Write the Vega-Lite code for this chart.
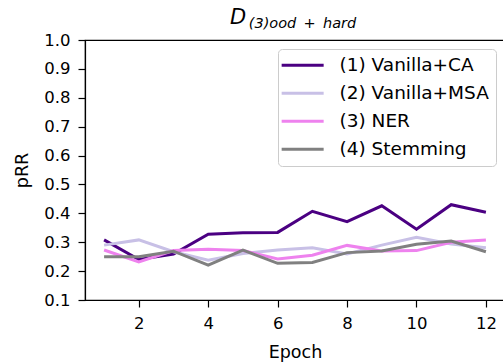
{
  "$schema": "https://vega.github.io/schema/vega-lite/v6.json",
  "width": 420,
  "height": 260,
  "autosize": {"type": "none"},
  "padding": {"left": 85, "top": 40, "right": 0, "bottom": 63},
  "background": "white",
  "config": {
    "font": "DejaVu Sans",
    "view": {"stroke": "black", "strokeWidth": 1.2},
    "axis": {
      "domainColor": "black", "domainWidth": 1.2,
      "tickColor": "black", "tickWidth": 1.2, "tickSize": 7,
      "labelColor": "black", "labelFontSize": 16.5, "labelFont": "DejaVu Sans",
      "titleColor": "black", "titleFontSize": 17.5, "titleFont": "DejaVu Sans", "titleFontWeight": "normal",
      "grid": false, "labelPadding": 8, "labelOverlap": false
    }
  },
  "title": {
    "text": "D",
    "anchor": "start",
    "frame": "group",
    "align": "left",
    "dx": 145,
    "dy": 25,
    "offset": 12,
    "font": "DejaVu Sans",
    "fontSize": 21,
    "fontStyle": "italic",
    "fontWeight": "normal",
    "color": "black"
  },
  "data": {
    "values": [
      {"epoch": 1, "method": "(1) Vanilla+CA", "pRR": 0.308},
      {"epoch": 2, "method": "(1) Vanilla+CA", "pRR": 0.240},
      {"epoch": 3, "method": "(1) Vanilla+CA", "pRR": 0.259},
      {"epoch": 4, "method": "(1) Vanilla+CA", "pRR": 0.328},
      {"epoch": 5, "method": "(1) Vanilla+CA", "pRR": 0.333},
      {"epoch": 6, "method": "(1) Vanilla+CA", "pRR": 0.334},
      {"epoch": 7, "method": "(1) Vanilla+CA", "pRR": 0.407},
      {"epoch": 8, "method": "(1) Vanilla+CA", "pRR": 0.371},
      {"epoch": 9, "method": "(1) Vanilla+CA", "pRR": 0.426},
      {"epoch": 10, "method": "(1) Vanilla+CA", "pRR": 0.345},
      {"epoch": 11, "method": "(1) Vanilla+CA", "pRR": 0.430},
      {"epoch": 12, "method": "(1) Vanilla+CA", "pRR": 0.404},
      {"epoch": 1, "method": "(2) Vanilla+MSA", "pRR": 0.290},
      {"epoch": 2, "method": "(2) Vanilla+MSA", "pRR": 0.308},
      {"epoch": 3, "method": "(2) Vanilla+MSA", "pRR": 0.267},
      {"epoch": 4, "method": "(2) Vanilla+MSA", "pRR": 0.238},
      {"epoch": 5, "method": "(2) Vanilla+MSA", "pRR": 0.261},
      {"epoch": 6, "method": "(2) Vanilla+MSA", "pRR": 0.273},
      {"epoch": 7, "method": "(2) Vanilla+MSA", "pRR": 0.281},
      {"epoch": 8, "method": "(2) Vanilla+MSA", "pRR": 0.259},
      {"epoch": 9, "method": "(2) Vanilla+MSA", "pRR": 0.290},
      {"epoch": 10, "method": "(2) Vanilla+MSA", "pRR": 0.317},
      {"epoch": 11, "method": "(2) Vanilla+MSA", "pRR": 0.294},
      {"epoch": 12, "method": "(2) Vanilla+MSA", "pRR": 0.281},
      {"epoch": 1, "method": "(3) NER", "pRR": 0.273},
      {"epoch": 2, "method": "(3) NER", "pRR": 0.232},
      {"epoch": 3, "method": "(3) NER", "pRR": 0.271},
      {"epoch": 4, "method": "(3) NER", "pRR": 0.276},
      {"epoch": 5, "method": "(3) NER", "pRR": 0.271},
      {"epoch": 6, "method": "(3) NER", "pRR": 0.242},
      {"epoch": 7, "method": "(3) NER", "pRR": 0.255},
      {"epoch": 8, "method": "(3) NER", "pRR": 0.289},
      {"epoch": 9, "method": "(3) NER", "pRR": 0.270},
      {"epoch": 10, "method": "(3) NER", "pRR": 0.271},
      {"epoch": 11, "method": "(3) NER", "pRR": 0.300},
      {"epoch": 12, "method": "(3) NER", "pRR": 0.308},
      {"epoch": 1, "method": "(4) Stemming", "pRR": 0.250},
      {"epoch": 2, "method": "(4) Stemming", "pRR": 0.250},
      {"epoch": 3, "method": "(4) Stemming", "pRR": 0.269},
      {"epoch": 4, "method": "(4) Stemming", "pRR": 0.221},
      {"epoch": 5, "method": "(4) Stemming", "pRR": 0.273},
      {"epoch": 6, "method": "(4) Stemming", "pRR": 0.227},
      {"epoch": 7, "method": "(4) Stemming", "pRR": 0.230},
      {"epoch": 8, "method": "(4) Stemming", "pRR": 0.264},
      {"epoch": 9, "method": "(4) Stemming", "pRR": 0.270},
      {"epoch": 10, "method": "(4) Stemming", "pRR": 0.293},
      {"epoch": 11, "method": "(4) Stemming", "pRR": 0.304},
      {"epoch": 12, "method": "(4) Stemming", "pRR": 0.267}
    ]
  },
  "resolve": {"axis": {"x": "independent"}},
  "layer": [
    {
      "mark": {"type": "line", "strokeWidth": 3, "clip": true},
      "encoding": {
        "x": {
          "field": "epoch", "type": "quantitative",
          "scale": {"domain": [0.45, 12.55], "nice": false, "zero": false},
          "axis": {"values": [2, 4, 6, 8, 10, 12], "title": "Epoch", "titlePadding": 12}
        },
        "y": {
          "field": "pRR", "type": "quantitative",
          "scale": {"domain": [0.1, 1.0], "nice": false, "zero": false},
          "axis": {"values": [0.1, 0.2, 0.3, 0.4, 0.5, 0.6, 0.7, 0.8, 0.9, 1.0], "format": ".1f", "title": "pRR", "titlePadding": 12}
        },
        "color": {
          "field": "method", "type": "nominal",
          "scale": {
            "domain": ["(1) Vanilla+CA", "(2) Vanilla+MSA", "(3) NER", "(4) Stemming"],
            "range": ["#4b0082", "#c8c0e6", "#ee82ee", "#808080"]
          },
          "legend": {
            "title": null,
            "orient": "top-right",
            "offset": 9,
            "padding": 7,
            "fillColor": "white",
            "strokeColor": "#cccccc",
            "cornerRadius": 4,
            "labelFont": "DejaVu Sans",
            "labelFontSize": 18.5,
            "labelColor": "black",
            "labelOffset": 36,
            "rowPadding": 9,
            "symbolType": "M-1.8,0H4.2",
            "symbolSize": 196,
            "symbolStrokeWidth": 3
          }
        }
      }
    },
    {
      "mark": {"type": "line", "opacity": 0},
      "encoding": {
        "x": {
          "field": "epoch", "type": "quantitative",
          "axis": {
            "orient": "top", "title": "(3)ood\u2002+\u2002hard",
            "labels": false, "ticks": false, "domain": false,
            "titleFontSize": 14.5, "titleFontStyle": "italic",
            "titleX": 217, "titleY": -13, "titleAlign": "center", "titleBaseline": "alphabetic"
          }
        },
        "y": {
          "field": "pRR", "type": "quantitative",
          "axis": {"values": [0.1, 0.2, 0.3, 0.4, 0.5, 0.6, 0.7, 0.8, 0.9, 1.0], "format": ".1f", "title": "pRR", "titlePadding": 12}
        },
        "detail": {"field": "method"}
      }
    }
  ]
}
